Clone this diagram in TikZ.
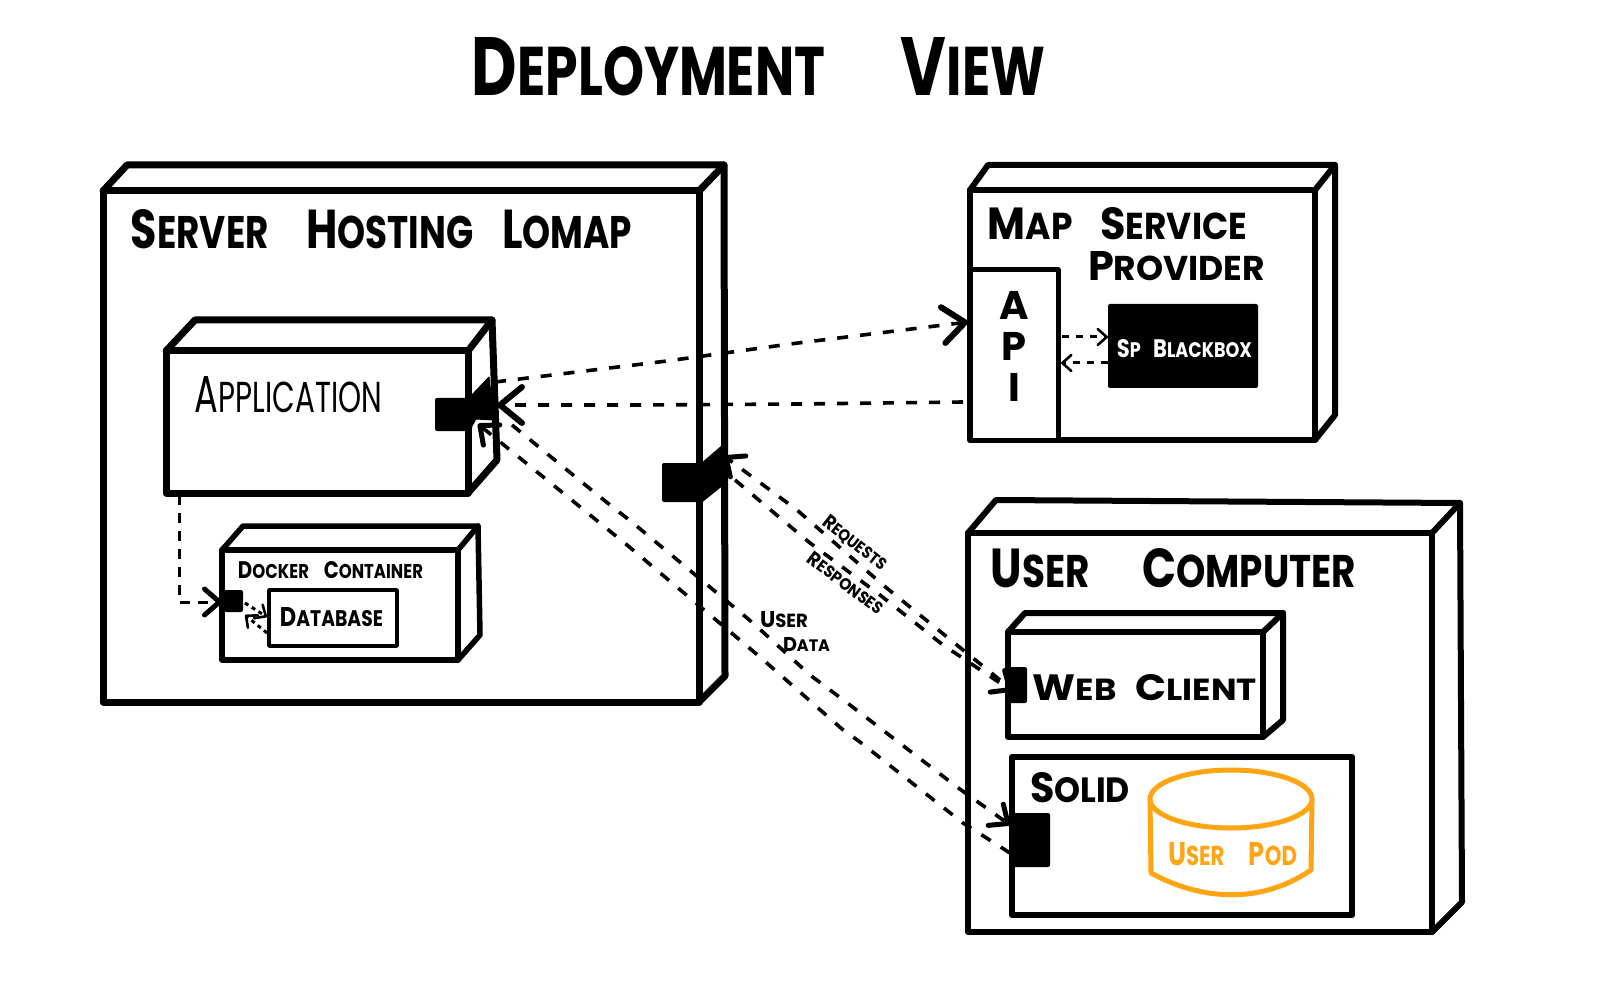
\documentclass[tikz,border=0pt]{standalone}
\usepackage{fontspec}
\usepackage{graphicx}
\setmainfont{Poppins}
\usetikzlibrary{arrows.meta,fit}
\definecolor{podorange}{HTML}{FFA514}
\newcommand\sk[2]{{\fontsize{12}{12}\selectfont #1}{\fontsize{10}{10}\selectfont #2}}
\tikzset{
  wall/.style={draw=black,line join=round,line cap=round},
  frontbox/.style={draw=black,fill=white,inner sep=0pt,outer sep=0pt,line join=round},
  portbox/.style={fill=black,inner sep=0pt,outer sep=0pt,rounded corners=2pt},
  wedge/.style={fill=black,draw=black,line width=1pt,line join=round},
  dep/.style={draw=black,line width=3.6pt,dash pattern=on 11pt off 12pt,line join=round},
  depsmall/.style={draw=black,line width=3pt,dash pattern=on 7pt off 7pt,line join=round},
  bighead/.style={-{Straight Barb[length=22pt,width=36pt,line width=6pt,round]}},
  midhead/.style={-{Straight Barb[length=15pt,width=26pt,line width=5pt,round]}},
  tinyhead/.style={-{Straight Barb[length=9pt,width=16pt,line width=2.6pt,round]}},
  txt/.style={inner sep=0pt,outer sep=0pt,text=black},
}
% name, line width, front NW, front SE, back TL, back TR, back BR
\newcommand\cubebox[7]{%
  \node[frontbox,line width=#2,fit={#3#4}] (#1) {};
  \coordinate (#1TL) at #5;
  \coordinate (#1TR) at #6;
  \coordinate (#1BR) at #7;
  \draw[wall,line width=#2] (#1.north west) -- (#1TL) -- (#1TR) -- (#1BR) -- (#1.south east);
  \draw[wall,line width=#2] (#1.north east) -- (#1TR);
}
% name, x1, y1, x2, y2, text
\newcommand\lbl[6]{%
  \pgfmathsetmacro\lblw{#4-#2}\pgfmathsetmacro\lblh{#5-#3}%
  \node[txt] (#1) at ({(#2+#4)/2},{(#3+#5)/2}) {\resizebox{\lblw pt}{\lblh pt}{#6}};
}
\begin{document}
\begin{tikzpicture}[x=1pt,y=-1pt]
\useasboundingbox (0,0) rectangle (1610,1000);

% --- nodes (boxes)
\cubebox{srv}{7pt}{(103,191)}{(699,702)}{(127,165)}{(724,165)}{(725,676)}
\cubebox{app}{7pt}{(166,351)}{(468,493)}{(195,320)}{(492,320)}{(497,460)}
\cubebox{doc}{5.5pt}{(222,550)}{(458,660)}{(243,526)}{(478,526)}{(480,635)}
\node[frontbox,line width=3.5pt,fit={(269,590)(397,646)}] (db) {};
\cubebox{map}{6pt}{(970,190)}{(1315,440)}{(988,165)}{(1335,165)}{(1335,415)}
\node[frontbox,line width=5pt,fit={(970,270)(1058,440)}] (api) {};
\node[portbox,fit={(1108,304)(1258,388)}] (bb) {};
\cubebox{usr}{6pt}{(968,533)}{(1432,932)}{(996,500)}{(1460,503)}{(1462,902)}
\cubebox{web}{6pt}{(1008,632)}{(1263,737)}{(1025,613)}{(1283,613)}{(1283,720)}
\node[frontbox,line width=6.5pt,fit={(1012,757)(1352,915)}] (sol) {};

% --- pod
\draw[draw=podorange,line width=5pt,line join=round,fill=white]
  (1150,800) -- (1151,873) .. controls (1200,900) and (1260,905) .. (1311,870) -- (1312,800);
\draw[draw=podorange,line width=5pt] (1231,799) ellipse [x radius=81,y radius=29];

% --- anchors of the connectors
\coordinate (appOutMap) at (495,382);
\coordinate (mapIn) at (968,322);
\coordinate (apiOutApp) at (963,402);
\coordinate (appIn) at (497,405);
\coordinate (appOutSolA) at (512,425);
\coordinate (solInA) at (1010,825);
\coordinate (appInSol) at (478,424);
\coordinate (solOutB) at (1010,853);
\coordinate (srvIn) at (724,456);
\coordinate (webOutC) at (1000,680);
\coordinate (srvOutD) at (735,480);
\coordinate (webIn) at (1012,691);
\coordinate (appDown) at (179,495);
\coordinate (docIn) at (222,602);

% --- connectors
\draw[dep,bighead] (appOutMap) -- (667,361) -- (790,344) -- (mapIn);
\draw[dep,bighead] (apiOutApp) -- (800,404) -- (640,405) -- (appIn);
\draw[dep,midhead] (appOutSolA) -- (600,497) -- (633,523) -- (663,548) -- (753,623) -- (810,675) -- (850,705) -- (957,787) -- (solInA);
\draw[dep,midhead] (solOutB) -- (963,823) -- (860,742) -- (842,729) -- (760,657) -- (627,545) -- (appInSol);
\draw[dep,midhead] (webOutC) -- (963,650) -- (883,585) -- (797,510) -- (srvIn);
\draw[dep,midhead] (srvOutD) -- (810,543) -- (880,595) -- (943,645) -- (webIn);
\draw[depsmall,dash pattern=on 10pt off 8pt,midhead] (appDown) -- (179,602) -- (docIn);

% --- inner small connectors
\draw[depsmall,tinyhead] (1062,337) -- (bb.west |- 0,337);
\draw[depsmall,tinyhead] (bb.west |- 0,363) -- (1061,363);
\draw[depsmall,dash pattern=on 4pt off 4pt,tinyhead] (245,603) -- (267,617);
\draw[depsmall,dash pattern=on 4pt off 4pt,tinyhead] (267,633) -- (245,615);

% --- ports
\node[portbox,fit={(435,398)(472,431)}] (appPort) {};
\fill[wedge] (469,398) -- (489,377) -- (494,420) -- (476,419) -- (469,431) -- cycle;
\node[portbox,fit={(662,463)(704,502)}] (srvPort) {};
\fill[wedge] (702,463) -- (723,445) -- (723,485) -- (703,501) -- cycle;
\node[portbox,fit={(1008,667)(1027,703)}] (webPort) {};
\node[portbox,fit={(1012,813)(1050,867)}] (solPort) {};
\node[portbox,fit={(224,590)(243,612)}] (docPort) {};

% --- labels
\lbl{title}{472}{38}{1045}{96}{\bfseries\sk{D}{EPLOYMENT}\hspace{1.45em}\sk{V}{IEW}}
\lbl{tsrv}{131}{210}{632}{249}{\bfseries\sk{S}{ERVER}\hspace{1.05em}\sk{H}{OSTING}\hspace{0.8em}\sk{L}{OMAP}}
\lbl{tapp}{195}{377}{382}{413}{\sk{A}{PPLICATION}}
\lbl{tdoc}{238}{562}{423}{579}{\bfseries\sk{D}{OCKER}\hspace{0.9em}\sk{C}{ONTAINER}}
\lbl{tdb}{280}{608}{383}{627}{\bfseries\sk{D}{ATABASE}}
\lbl{tmap}{988}{208}{1247}{240}{\bfseries\sk{M}{AP}\hspace{0.8em}\sk{S}{ERVICE}}
\lbl{tprov}{1088}{252}{1265}{281}{\bfseries\sk{P}{ROVIDER}}
\node[txt,align=center,font=\fontsize{40}{41}\selectfont\bfseries] (tapi) at (1014,346) {A\\P\\I};
\lbl{tbb}{1117}{340}{1252}{358}{\color{white}\bfseries\sk{S}{P}\hspace{0.7em}\sk{B}{LACKBOX}}
\lbl{tusr}{991}{549}{1356}{588}{\bfseries\sk{U}{SER}\hspace{1.4em}\sk{C}{OMPUTER}}
\lbl{tweb}{1033}{675}{1257}{701}{\bfseries\sk{W}{EB}\hspace{0.55em}\sk{C}{LIENT}}
\lbl{tsol}{1030}{773}{1130}{803}{\bfseries\sk{S}{OLID}}
\lbl{tpod}{1168}{843}{1297}{866}{\color{podorange}\bfseries\sk{U}{SER}\hspace{1.15em}\sk{P}{OD}}
\lbl{tuser}{760}{612}{808}{628}{\bfseries\sk{U}{SER}}
\lbl{tdata}{783}{637}{830}{651}{\bfseries\sk{D}{ATA}}
\node[txt,rotate=-38] (treq) at (855,543) {\resizebox{76pt}{14pt}{\bfseries\sk{R}{EQUESTS}}};
\node[txt,rotate=-37] (tres) at (846,583) {\resizebox{90pt}{14pt}{\bfseries\sk{R}{ESPONSES}}};
\end{tikzpicture}
\end{document}
